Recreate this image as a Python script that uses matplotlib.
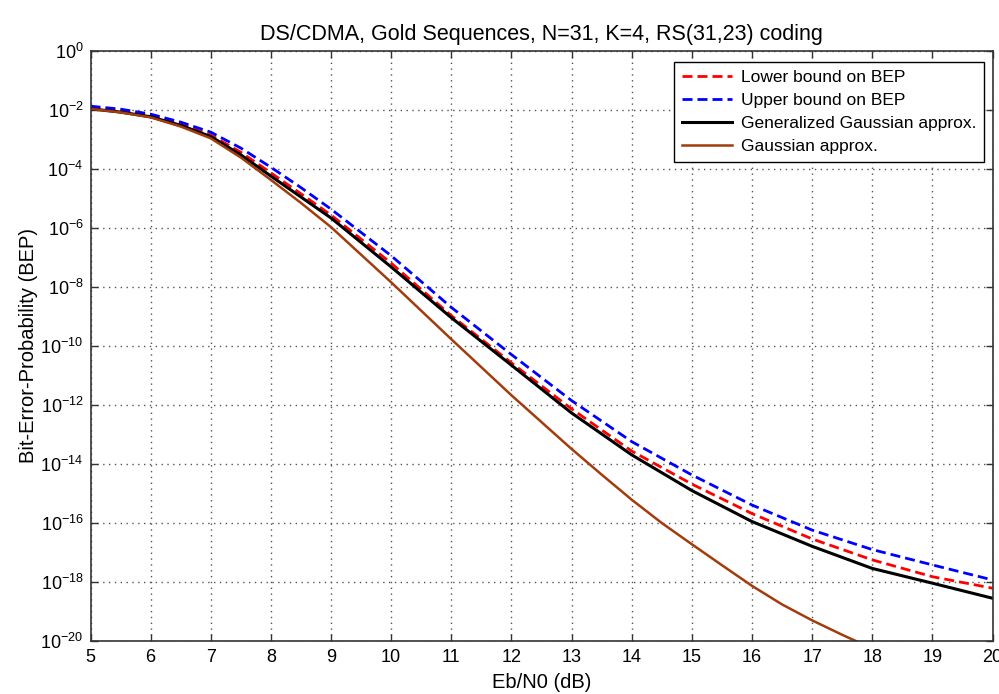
import numpy as np
import matplotlib
matplotlib.use("Agg")
import matplotlib.pyplot as plt
from matplotlib.ticker import FixedLocator, FuncFormatter, NullLocator

plt.rcParams['font.family'] = ['Liberation Sans', 'DejaVu Sans']

# ---- data (log10 of BEP) ----
ebn0 = [5, 5.5, 6, 6.5, 7, 7.5, 8, 8.5, 9, 10, 11, 12, 13, 14, 15, 16, 17, 18, 19, 20]
lower_log = [-1.93, -2.04, -2.20, -2.49, -2.86, -3.44, -4.14, -4.85, -5.57, -7.20,
             -8.98, -10.58, -12.14, -13.57, -14.69, -15.69, -16.55, -17.26, -17.83, -18.22]
upper_log = [-1.88, -1.98, -2.15, -2.42, -2.76, -3.30, -3.95, -4.64, -5.37, -6.95,
             -8.70, -10.30, -11.86, -13.25, -14.38, -15.40, -16.25, -16.91, -17.43, -17.94]
gga_log = [-1.97, -2.08, -2.24, -2.53, -2.91, -3.53, -4.25, -4.96, -5.67, -7.33,
           -9.05, -10.66, -12.28, -13.70, -14.91, -15.96, -16.80, -17.55, -18.05, -18.56]
ga_x = [5, 5.5, 6, 6.5, 7, 7.5, 8, 8.5, 9, 10, 11, 12, 13, 13.5, 14, 14.5,
        15, 15.5, 16, 16.5, 17, 17.5, 17.77]
ga_log = [-1.97, -2.09, -2.26, -2.57, -2.97, -3.62, -4.38, -5.16, -5.98, -7.85,
          -9.78, -11.68, -13.50, -14.37, -15.22, -16.01, -16.73, -17.44, -18.14,
          -18.77, -19.31, -19.80, -20.05]

labels = ['Lower bound on BEP', 'Upper bound on BEP',
          'Generalized Gaussian approx.', 'Gaussian approx.']
title = 'DS/CDMA, Gold Sequences, N=31, K=4, RS(31,23) coding'
xticks = list(range(5, 21))
yexp = list(range(0, -21, -2))

fig = plt.figure(figsize=(9.99, 6.94), dpi=100)
ax = fig.add_axes([0.0906, 0.0768, 0.9029, 0.8501])

ax.semilogy(ebn0, 10.0 ** np.array(lower_log), color='#ff0000', lw=2.0,
            dashes=(3.6, 1.8), label=labels[0])
ax.semilogy(ebn0, 10.0 ** np.array(upper_log), color='#0000ff', lw=2.0,
            dashes=(3.6, 1.8), label=labels[1])
ax.semilogy(ebn0, 10.0 ** np.array(gga_log), color='black', lw=2.2,
            label=labels[2])
ax.semilogy(ga_x, 10.0 ** np.array(ga_log), color='#a33c0c', lw=1.8,
            label=labels[3])

ax.set_xlim(5, 20)
ax.set_ylim(1e-20, 1e0)
ax.xaxis.set_major_locator(FixedLocator(xticks))
ax.yaxis.set_major_locator(FixedLocator([10.0 ** e for e in yexp]))
ax.yaxis.set_minor_locator(NullLocator())
ax.yaxis.set_major_formatter(FuncFormatter(
    lambda v, p: r'$\mathregular{10^{%d}}$' % int(round(np.log10(v)))))
ax.tick_params(axis='both', which='both', direction='in', top=True, right=True,
               labelsize=13, length=5, width=1, color='#333333')
ax.tick_params(axis='x', pad=6)
ax.tick_params(axis='y', pad=5)
ax.grid(True, which='major', linestyle=(0, (1, 3.2)), color='#555555', lw=1.0)
for s in ax.spines.values():
    s.set_linewidth(1.2)
    s.set_color('#333333')

ax.set_title(title, fontsize=15.5, pad=8)
ax.set_xlabel('Eb/N0 (dB)', fontsize=14.5, labelpad=5)
ax.set_ylabel('Bit-Error-Probability (BEP)', fontsize=14.5, labelpad=2)

leg = ax.legend(loc='upper right', bbox_to_anchor=(0.9965, 0.99), fontsize=12.5,
                frameon=True, fancybox=False, framealpha=1, edgecolor='black',
                handlelength=2.9, borderpad=0.45, labelspacing=0.45,
                handletextpad=0.5, borderaxespad=0.3)
leg.get_frame().set_linewidth(1.0)

fig.savefig('out.png', dpi=100)
